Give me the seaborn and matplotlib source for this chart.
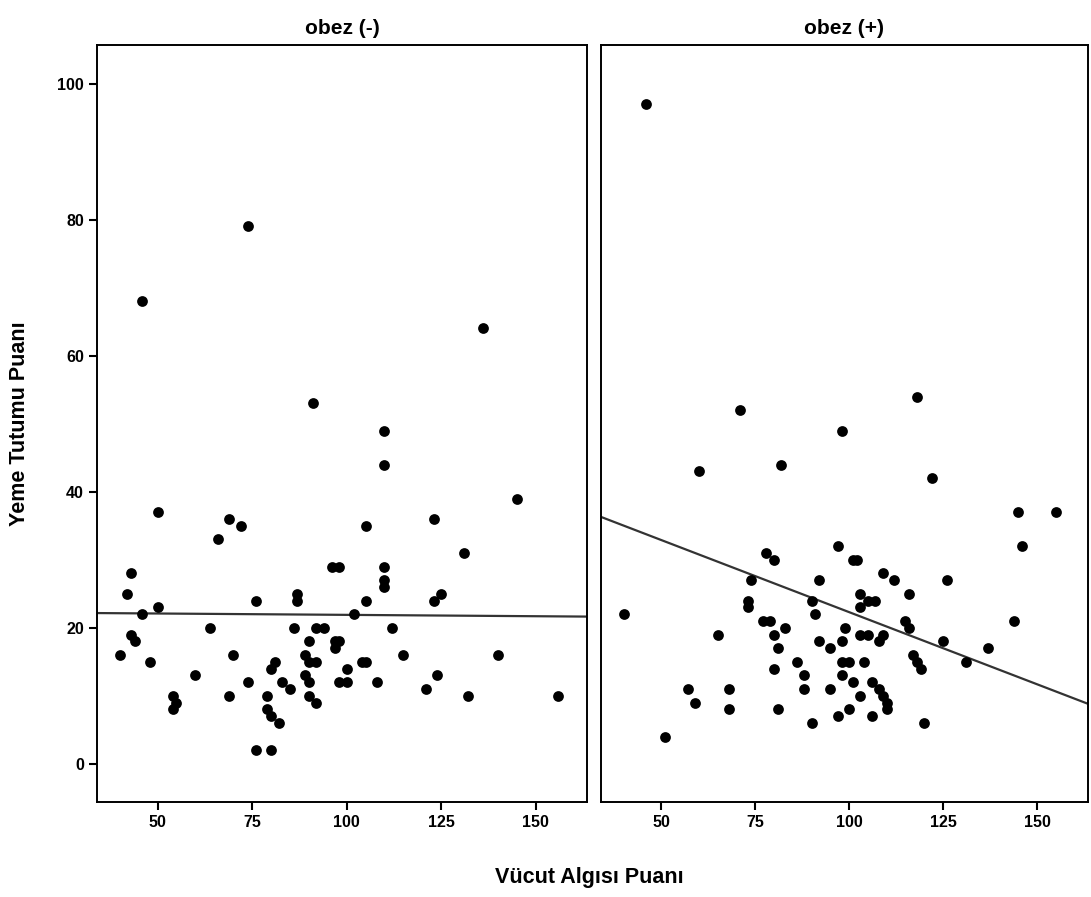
import matplotlib
matplotlib.use("Agg")
import matplotlib.pyplot as plt
import pandas as pd
import seaborn as sns

# obez (-) panel
neg_x = [74, 46, 136, 91, 110, 110, 145, 50, 69, 72, 105, 123, 66, 131, 43, 96, 98, 110, 110, 110,
         42, 87, 125, 87, 76, 105, 123, 50, 46, 102, 64, 86, 92, 94, 112, 43, 44, 90, 97, 98,
         89, 97, 40, 70, 115, 140, 48, 81, 90, 92, 104, 105, 80, 100, 60, 89, 124, 74, 83, 90,
         98, 100, 108, 85, 121, 54, 69, 79, 90, 132, 156, 55, 92, 54, 79, 80, 82, 76, 80]
neg_y = [79, 68, 64, 53, 49, 44, 39, 37, 36, 35, 35, 36, 33, 31, 28, 29, 29, 29, 27, 26,
         25, 25, 25, 24, 24, 24, 24, 23, 22, 22, 20, 20, 20, 20, 20, 19, 18, 18, 18, 18,
         16, 17, 16, 16, 16, 16, 15, 15, 15, 15, 15, 15, 14, 14, 13, 13, 13, 12, 12, 12,
         12, 12, 12, 11, 11, 10, 10, 10, 10, 10, 10, 9, 9, 8, 8, 7, 6, 2, 2]
neg_fit = (22.3, -0.004)   # intercept, slope of the fit line as printed

# obez (+) panel
pos_x = [46, 71, 118, 98, 60, 82, 122, 145, 155, 146, 97, 78, 80, 101, 102, 109, 74, 92, 112, 126,
         116, 103, 73, 90, 105, 107, 73, 103, 40, 91, 77, 79, 115, 144, 83, 99, 116, 65, 80, 103,
         105, 109, 92, 98, 108, 125, 81, 95, 137, 117, 86, 98, 100, 104, 118, 131, 80, 119, 88, 98,
         101, 106, 57, 68, 88, 95, 108, 109, 103, 59, 110, 68, 81, 100, 110, 97, 106, 90, 120, 51]
pos_y = [97, 52, 54, 49, 43, 44, 42, 37, 37, 32, 32, 31, 30, 30, 30, 28, 27, 27, 27, 27,
         25, 25, 24, 24, 24, 24, 23, 23, 22, 22, 21, 21, 21, 21, 20, 20, 20, 19, 19, 19,
         19, 19, 18, 18, 18, 18, 17, 17, 17, 16, 15, 15, 15, 15, 15, 15, 14, 14, 13, 13,
         12, 12, 11, 11, 11, 11, 11, 10, 10, 9, 9, 8, 8, 8, 8, 7, 7, 6, 6, 4]
pos_fit = (43.5, -0.212)

panels = [("obez (-)", neg_x, neg_y, neg_fit), ("obez (+)", pos_x, pos_y, pos_fit)]
y_ticks = [0, 20, 40, 60, 80, 100]
x_ticks = [50, 75, 100, 125, 150]

sns.set_theme(style="white")
plt.rcParams["font.family"] = ["Liberation Sans", "DejaVu Sans"]
plt.rcParams["font.weight"] = "bold"
plt.rcParams["text.color"] = "black"
plt.rcParams["xtick.color"] = "black"
plt.rcParams["ytick.color"] = "black"

fig = plt.figure(figsize=(10.91, 8.97), dpi=100)
ax_l = fig.add_axes([0.0889, 0.106, 0.449, 0.844])
ax_r = fig.add_axes([0.551, 0.106, 0.446, 0.844])

for ax, (title, xs, ys, (b0, b1)) in zip([ax_l, ax_r], panels):
    df = pd.DataFrame({"x": xs, "y": ys})
    sns.scatterplot(data=df, x="x", y="y", ax=ax, color="black", s=60,
                    edgecolor="black", linewidth=0, zorder=3)
    ax.axline((0, b0), slope=b1, color="#333333", linewidth=1.6, zorder=2)
    ax.set_xlim(34, 163.5)
    ax.set_ylim(-5.6, 105.7)
    ax.set_title(title, fontsize=15, fontweight="bold", pad=8, color="black")
    ax.set_xlabel(""); ax.set_ylabel("")
    ax.set_xticks(x_ticks)
    ax.set_yticks(y_ticks)
    for sp in ax.spines.values():
        sp.set_color("black"); sp.set_linewidth(1.4)
    ax.tick_params(axis="both", direction="out", length=6, width=1.5, color="black",
                   labelcolor="black", labelsize=11.5, bottom=True, left=True)
    for lab in ax.get_xticklabels() + ax.get_yticklabels():
        lab.set_fontweight("bold")

ax_r.tick_params(axis="y", left=False, labelleft=False)

fig.text(0.018, 0.528, "Yeme Tutumu Puanı", rotation=90, ha="center", va="center",
         fontsize=15.5, fontweight="bold", color="black")
fig.text(0.54, 0.022, "Vücut Algısı Puanı", ha="center", va="center",
         fontsize=15.5, fontweight="bold", color="black")

fig.savefig("out.png", dpi=100)
